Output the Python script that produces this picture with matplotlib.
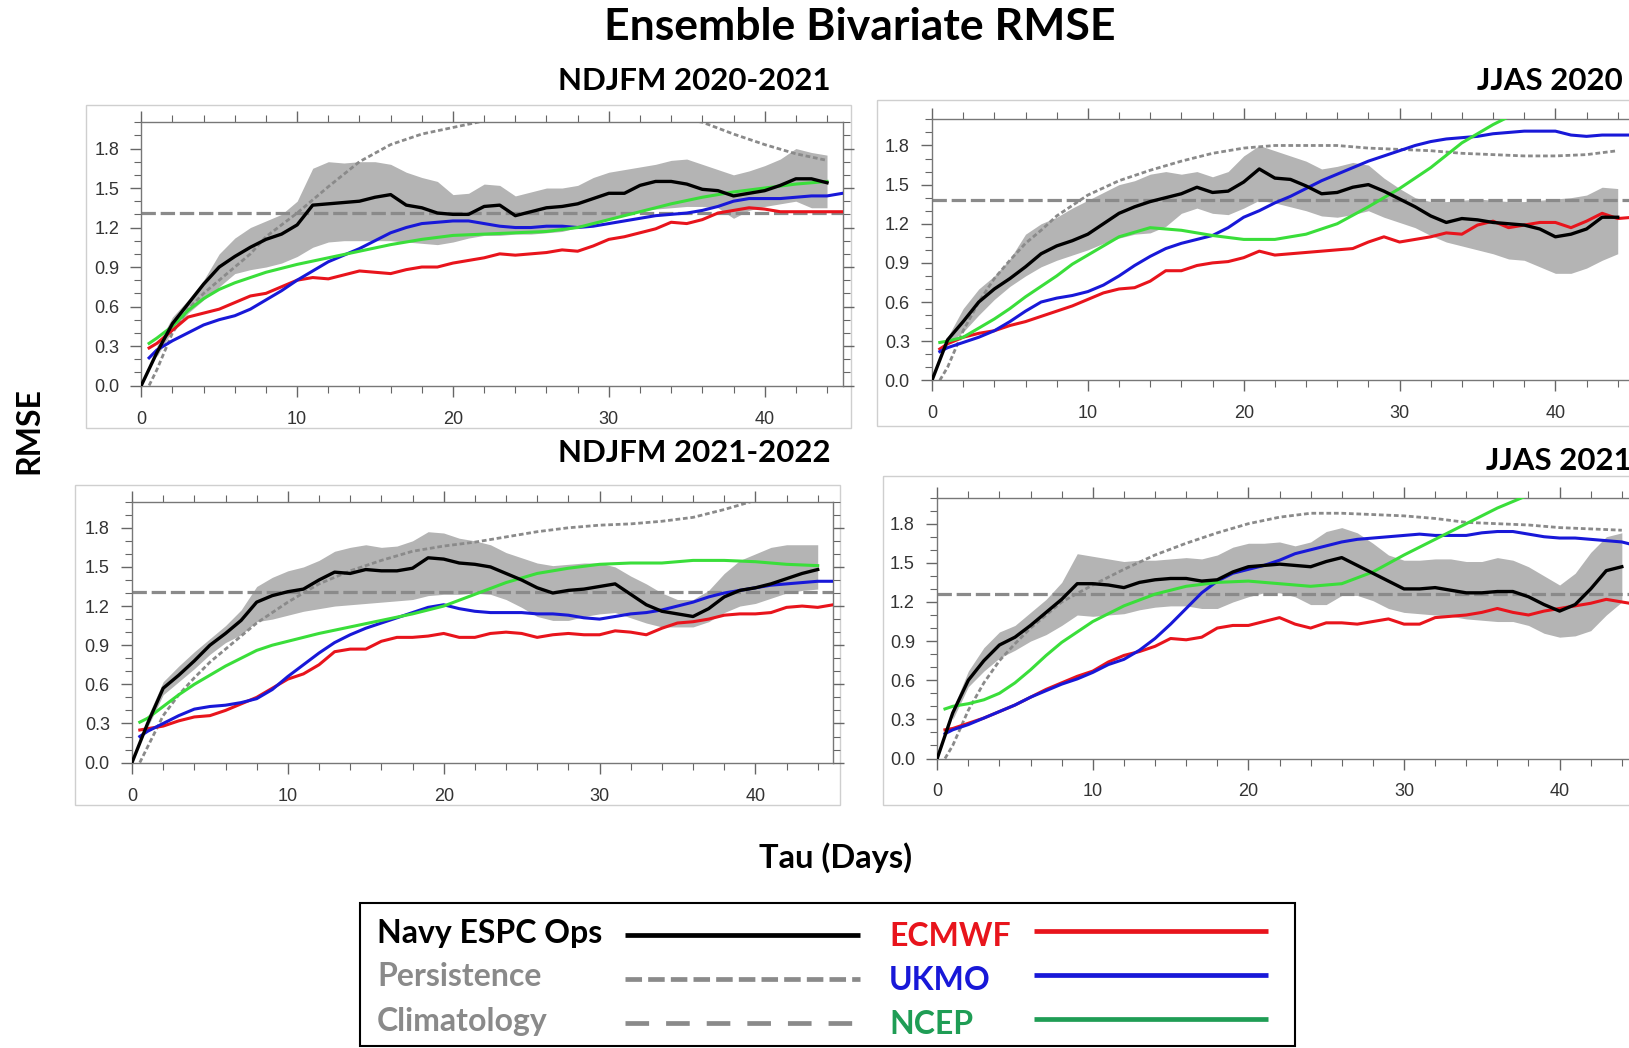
import numpy as np
import matplotlib
matplotlib.use('Agg')
import matplotlib.pyplot as plt
from matplotlib.ticker import MultipleLocator, FormatStrFormatter
from matplotlib.lines import Line2D
from matplotlib.patches import Rectangle

W, H = 1629, 1048

# forecast lead times (days)
tau_navy = np.arange(0, 45)
tau_band = np.arange(1, 45)
tau_model = np.concatenate([[0.5], np.arange(1, 46)])
tau_pers = np.concatenate([[0.5], np.arange(1, 9), np.arange(10, 45, 2)])
tau_ncep = np.concatenate([[0.5], np.arange(1, 11), np.arange(12, 45, 2)])

# ---- NDJFM 2020-2021 ----
w20_navy = [0.00, 0.25, 0.47, 0.62, 0.77, 0.90, 0.98, 1.05, 1.11, 1.15,
            1.22, 1.37, 1.38, 1.39, 1.40, 1.43, 1.45, 1.37, 1.35, 1.31,
            1.30, 1.30, 1.36, 1.37, 1.29, 1.32, 1.35, 1.36, 1.38, 1.42,
            1.46, 1.46, 1.52, 1.55, 1.55, 1.53, 1.49, 1.48, 1.44, 1.46,
            1.48, 1.52, 1.57, 1.57, 1.54]
w20_hi = [0.30, 0.52, 0.65, 0.80, 1.00, 1.12, 1.20, 1.25, 1.30, 1.40,
          1.65, 1.70, 1.69, 1.70, 1.70, 1.68, 1.62, 1.58, 1.55, 1.45,
          1.46, 1.53, 1.52, 1.44, 1.47, 1.50, 1.50, 1.52, 1.58, 1.62,
          1.64, 1.66, 1.68, 1.71, 1.72, 1.68, 1.64, 1.60, 1.63, 1.67,
          1.72, 1.80, 1.77, 1.75]
w20_lo = [0.22, 0.42, 0.55, 0.65, 0.75, 0.85, 0.88, 0.90, 0.93, 0.98,
          1.05, 1.09, 1.10, 1.10, 1.10, 1.10, 1.09, 1.08, 1.07, 1.09,
          1.12, 1.14, 1.14, 1.15, 1.15, 1.16, 1.17, 1.20, 1.22, 1.26,
          1.30, 1.33, 1.34, 1.35, 1.36, 1.36, 1.35, 1.27, 1.33, 1.36,
          1.38, 1.40, 1.35, 1.35]
w20_pers = [0.00, 0.12, 0.40, 0.58, 0.70, 0.80, 0.90, 1.00, 1.13,
            1.31, 1.51, 1.70, 1.83, 1.91, 1.96, 2.01, 2.04, 2.06, 2.07,
            2.07, 2.06, 2.04, 2.00, 1.91, 1.83, 1.76, 1.71]
w20_clim = 1.31
w20_ecmwf = [0.285,
             0.32, 0.42, 0.52, 0.55, 0.58, 0.63, 0.68, 0.70, 0.75, 0.80,
             0.82, 0.81, 0.84, 0.87, 0.86, 0.85, 0.88, 0.90, 0.90, 0.93,
             0.95, 0.97, 1.00, 0.99, 1.00, 1.01, 1.03, 1.02, 1.06, 1.11,
             1.13, 1.16, 1.19, 1.24, 1.23, 1.26, 1.31, 1.33, 1.35, 1.34,
             1.32, 1.32, 1.32, 1.32, 1.32]
w20_ukmo = [0.21,
            0.27, 0.34, 0.40, 0.46, 0.50, 0.53, 0.58, 0.65, 0.72, 0.80,
            0.87, 0.94, 0.99, 1.04, 1.10, 1.16, 1.20, 1.23, 1.24, 1.25,
            1.25, 1.23, 1.21, 1.20, 1.20, 1.21, 1.21, 1.20, 1.21, 1.23,
            1.25, 1.27, 1.29, 1.30, 1.31, 1.33, 1.36, 1.40, 1.42, 1.42,
            1.42, 1.43, 1.44, 1.44, 1.46]
w20_ncep = [0.32, 0.36, 0.45, 0.57, 0.66, 0.73, 0.78, 0.82, 0.86, 0.89, 0.92,
            0.97, 1.02, 1.07, 1.11, 1.14, 1.15, 1.16, 1.17, 1.20, 1.26,
            1.32, 1.38, 1.43, 1.47, 1.50, 1.53, 1.55]

# ---- JJAS 2020 ----
s20_navy = [0.00, 0.31, 0.45, 0.60, 0.70, 0.78, 0.87, 0.97, 1.03, 1.07,
            1.12, 1.20, 1.28, 1.33, 1.37, 1.40, 1.43, 1.48, 1.44, 1.45,
            1.52, 1.62, 1.55, 1.54, 1.49, 1.43, 1.44, 1.48, 1.50, 1.45,
            1.39, 1.33, 1.26, 1.21, 1.24, 1.23, 1.21, 1.20, 1.19, 1.16,
            1.10, 1.12, 1.16, 1.25, 1.25]
s20_hi = [0.33, 0.55, 0.70, 0.80, 0.93, 1.12, 1.20, 1.25, 1.32, 1.38,
          1.44, 1.50, 1.53, 1.58, 1.60, 1.58, 1.60, 1.56, 1.60, 1.72,
          1.80, 1.76, 1.72, 1.68, 1.62, 1.64, 1.67, 1.65, 1.55, 1.47,
          1.40, 1.37, 1.37, 1.38, 1.39, 1.38, 1.37, 1.37, 1.38, 1.39,
          1.40, 1.42, 1.48, 1.47]
s20_lo = [0.28, 0.37, 0.50, 0.62, 0.72, 0.80, 0.87, 0.92, 0.96, 1.00,
          1.05, 1.09, 1.12, 1.13, 1.18, 1.28, 1.32, 1.28, 1.27, 1.32,
          1.38, 1.36, 1.33, 1.30, 1.26, 1.25, 1.27, 1.30, 1.25, 1.21,
          1.17, 1.11, 1.06, 1.03, 1.00, 0.97, 0.93, 0.92, 0.87, 0.82,
          0.82, 0.86, 0.92, 0.97]
s20_pers = [0.00, 0.10, 0.38, 0.60, 0.78, 0.92, 1.05, 1.15, 1.26,
            1.42, 1.53, 1.61, 1.68, 1.74, 1.78, 1.80, 1.80, 1.80, 1.78,
            1.77, 1.76, 1.74, 1.73, 1.72, 1.72, 1.73, 1.76]
s20_clim = 1.38
s20_ecmwf = [0.24,
             0.28, 0.33, 0.36, 0.38, 0.42, 0.45, 0.49, 0.53, 0.57, 0.62,
             0.67, 0.70, 0.71, 0.76, 0.84, 0.84, 0.88, 0.90, 0.91, 0.94,
             0.99, 0.96, 0.97, 0.98, 0.99, 1.00, 1.01, 1.06, 1.10, 1.06,
             1.08, 1.10, 1.13, 1.12, 1.19, 1.22, 1.17, 1.19, 1.21, 1.21,
             1.17, 1.22, 1.28, 1.24, 1.25]
s20_ukmo = [0.22,
            0.25, 0.29, 0.33, 0.38, 0.45, 0.53, 0.60, 0.63, 0.65, 0.68,
            0.73, 0.80, 0.88, 0.95, 1.01, 1.05, 1.08, 1.11, 1.17, 1.25,
            1.30, 1.36, 1.41, 1.47, 1.53, 1.58, 1.63, 1.68, 1.72, 1.76,
            1.80, 1.83, 1.85, 1.86, 1.87, 1.89, 1.90, 1.91, 1.91, 1.91,
            1.88, 1.87, 1.88, 1.88, 1.88]
s20_ncep = [0.29, 0.30, 0.33, 0.40, 0.47, 0.55, 0.64, 0.72, 0.80, 0.89, 0.96,
            1.10, 1.17, 1.15, 1.11, 1.08, 1.08, 1.12, 1.20, 1.33, 1.47,
            1.63, 1.82, 1.96, 2.08]

# ---- NDJFM 2021-2022 ----
w21_navy = [0.00, 0.30, 0.57, 0.67, 0.78, 0.90, 0.99, 1.09, 1.23, 1.28,
            1.31, 1.33, 1.40, 1.46, 1.45, 1.48, 1.47, 1.47, 1.49, 1.57,
            1.56, 1.53, 1.52, 1.50, 1.45, 1.40, 1.34, 1.30, 1.32, 1.33,
            1.35, 1.37, 1.29, 1.21, 1.16, 1.14, 1.12, 1.18, 1.27, 1.32,
            1.34, 1.37, 1.41, 1.45, 1.48]
w21_hi = [0.35, 0.62, 0.74, 0.85, 0.95, 1.05, 1.17, 1.35, 1.42, 1.47,
          1.50, 1.55, 1.62, 1.65, 1.67, 1.65, 1.66, 1.70, 1.77, 1.76,
          1.72, 1.70, 1.67, 1.61, 1.57, 1.53, 1.51, 1.52, 1.53, 1.53,
          1.50, 1.43, 1.37, 1.30, 1.25, 1.25, 1.32, 1.45, 1.55, 1.60,
          1.65, 1.67, 1.67, 1.67]
w21_lo = [0.27, 0.52, 0.62, 0.72, 0.83, 0.92, 0.98, 1.08, 1.10, 1.13,
          1.16, 1.18, 1.20, 1.21, 1.22, 1.23, 1.24, 1.25, 1.28, 1.29,
          1.29, 1.30, 1.29, 1.25, 1.19, 1.12, 1.09, 1.09, 1.12, 1.14,
          1.15, 1.11, 1.07, 1.04, 1.04, 1.04, 1.08, 1.15, 1.20, 1.22,
          1.26, 1.30, 1.32, 1.33]
w21_pers = [0.00, 0.12, 0.36, 0.52, 0.65, 0.77, 0.87, 0.97, 1.07,
            1.23, 1.37, 1.47, 1.55, 1.62, 1.66, 1.69, 1.73, 1.77, 1.80,
            1.82, 1.83, 1.85, 1.88, 1.94, 2.01, 2.05, 2.08]
w21_clim = 1.31
w21_ecmwf = [0.25,
             0.26, 0.28, 0.32, 0.35, 0.36, 0.40, 0.45, 0.50, 0.57, 0.64,
             0.68, 0.75, 0.85, 0.87, 0.87, 0.93, 0.96, 0.96, 0.97, 0.99,
             0.96, 0.96, 0.99, 1.00, 0.99, 0.96, 0.98, 0.99, 0.98, 0.98,
             1.01, 1.00, 0.98, 1.03, 1.07, 1.08, 1.10, 1.13, 1.14, 1.14,
             1.15, 1.19, 1.20, 1.19, 1.21]
w21_ukmo = [0.20,
            0.24, 0.30, 0.36, 0.41, 0.43, 0.44, 0.46, 0.49, 0.56, 0.66,
            0.75, 0.84, 0.92, 0.98, 1.03, 1.07, 1.11, 1.15, 1.19, 1.21,
            1.18, 1.16, 1.15, 1.15, 1.15, 1.14, 1.14, 1.13, 1.11, 1.10,
            1.12, 1.14, 1.15, 1.17, 1.20, 1.23, 1.27, 1.30, 1.32, 1.34,
            1.36, 1.37, 1.38, 1.39, 1.39]
w21_ncep = [0.31, 0.34, 0.43, 0.52, 0.60, 0.67, 0.74, 0.80, 0.86, 0.90, 0.93,
            0.99, 1.04, 1.09, 1.14, 1.20, 1.29, 1.38, 1.45, 1.49, 1.52,
            1.53, 1.53, 1.55, 1.55, 1.54, 1.52, 1.51]

# ---- JJAS 2021 ----
s21_navy = [0.00, 0.35, 0.60, 0.75, 0.87, 0.93, 1.02, 1.12, 1.22, 1.34,
            1.34, 1.33, 1.31, 1.35, 1.37, 1.38, 1.38, 1.36, 1.37, 1.43,
            1.47, 1.48, 1.49, 1.48, 1.47, 1.51, 1.54, 1.48, 1.42, 1.36,
            1.30, 1.30, 1.31, 1.29, 1.27, 1.27, 1.28, 1.28, 1.24, 1.18,
            1.13, 1.18, 1.30, 1.44, 1.47]
s21_hi = [0.38, 0.67, 0.85, 0.97, 1.02, 1.12, 1.22, 1.35, 1.57, 1.55,
          1.53, 1.51, 1.52, 1.52, 1.53, 1.54, 1.53, 1.56, 1.62, 1.65,
          1.65, 1.66, 1.63, 1.66, 1.74, 1.77, 1.73, 1.65, 1.56, 1.52,
          1.52, 1.53, 1.53, 1.51, 1.51, 1.54, 1.52, 1.47, 1.40, 1.33,
          1.42, 1.58, 1.70, 1.73]
s21_lo = [0.30, 0.55, 0.67, 0.77, 0.83, 0.90, 0.95, 1.02, 1.10, 1.09,
          1.10, 1.11, 1.14, 1.16, 1.17, 1.17, 1.15, 1.15, 1.20, 1.24,
          1.27, 1.27, 1.24, 1.18, 1.18, 1.25, 1.25, 1.21, 1.15, 1.12,
          1.11, 1.10, 1.09, 1.07, 1.06, 1.05, 1.05, 1.02, 0.96, 0.93,
          0.94, 0.98, 1.10, 1.20]
s21_pers = [0.00, 0.10, 0.37, 0.58, 0.75, 0.88, 1.00, 1.10, 1.20,
            1.33, 1.45, 1.56, 1.65, 1.73, 1.80, 1.85, 1.88, 1.88, 1.87,
            1.86, 1.84, 1.81, 1.80, 1.79, 1.77, 1.76, 1.75]
s21_clim = 1.26
s21_ecmwf = [0.22,
             0.23, 0.27, 0.31, 0.36, 0.41, 0.47, 0.53, 0.58, 0.63, 0.67,
             0.74, 0.79, 0.82, 0.86, 0.92, 0.91, 0.93, 1.00, 1.02, 1.02,
             1.05, 1.08, 1.03, 1.00, 1.04, 1.04, 1.03, 1.05, 1.07, 1.03,
             1.03, 1.08, 1.09, 1.10, 1.12, 1.15, 1.12, 1.10, 1.13, 1.15,
             1.17, 1.19, 1.22, 1.20, 1.18]
s21_ukmo = [0.19,
            0.22, 0.26, 0.31, 0.36, 0.41, 0.47, 0.52, 0.57, 0.61, 0.66,
            0.72, 0.76, 0.83, 0.92, 1.03, 1.15, 1.27, 1.36, 1.42, 1.45,
            1.48, 1.52, 1.57, 1.60, 1.63, 1.66, 1.68, 1.69, 1.70, 1.71,
            1.72, 1.71, 1.71, 1.71, 1.73, 1.74, 1.74, 1.72, 1.70, 1.69,
            1.69, 1.68, 1.67, 1.66, 1.63]
s21_ncep = [0.38, 0.40, 0.42, 0.45, 0.50, 0.58, 0.68, 0.79, 0.89, 0.97, 1.05,
            1.17, 1.26, 1.32, 1.35, 1.36, 1.34, 1.32, 1.34, 1.43, 1.56,
            1.68, 1.80, 1.92, 2.02]

panel_titles = ['NDJFM 2020-2021', 'JJAS 2020', 'NDJFM 2021-2022', 'JJAS 2021']
legend_left = ['Navy ESPC Ops', 'Persistence', 'Climatology']
legend_right = ['ECMWF', 'UKMO', 'NCEP']

C_ECMWF = '#e8141c'
C_UKMO = '#1818d8'
C_NCEP = '#3ade3a'
C_NCEP_LEG = '#1f9d55'
C_GRAY = '#8a8a8a'
C_BAND = '#b4b4b4'

TITLE_FONT = ['Lato', 'DejaVu Sans']
TICK_FONT = ['Liberation Sans', 'DejaVu Sans']


def px_rect(x0, y0, x1, y1):
    '''axes rect in figure fraction from pixel corners (top-left origin)'''
    return [x0 / W, 1 - y1 / H, (x1 - x0) / W, (y1 - y0) / H]


def draw_panel(ax, navy, hi, lo, pers, clim, ecmwf, ukmo, ncep):
    ax.fill_between(tau_band, lo, hi, color=C_BAND, lw=0, zorder=1)
    ax.plot(tau_pers, pers, color=C_GRAY, lw=2.0, ls=(0, (1.7, 1.0)), zorder=2)
    ax.axhline(clim, color=C_GRAY, lw=2.3, ls=(0, (4.5, 1.5)), zorder=2)
    ax.plot(tau_model, ecmwf, color=C_ECMWF, lw=2.2, zorder=3)
    ax.plot(tau_model, ukmo, color=C_UKMO, lw=2.2, zorder=3)
    ax.plot(tau_ncep[:len(ncep)], ncep, color=C_NCEP, lw=2.2, zorder=3)
    ax.plot(tau_navy, navy, color='black', lw=2.4, zorder=4)

    ax.set_xlim(0, 45)
    ax.set_ylim(0, 2.0)
    ax.xaxis.set_major_locator(MultipleLocator(10))
    ax.xaxis.set_minor_locator(MultipleLocator(2))
    ax.yaxis.set_major_locator(MultipleLocator(0.3))
    ax.yaxis.set_minor_locator(MultipleLocator(0.1))
    ax.yaxis.set_major_formatter(FormatStrFormatter('%.1f'))
    ax.tick_params(which='both', direction='out', top=True, right=True,
                   colors='#666666', labelcolor='#333333', labelsize=13)
    ax.tick_params(which='major', length=8, width=1)
    ax.tick_params(which='minor', length=5, width=0.8)
    ax.tick_params(axis='x', which='major', pad=10)
    ax.tick_params(axis='y', which='major', pad=8)
    for lab in ax.get_xticklabels() + ax.get_yticklabels():
        lab.set_family(TICK_FONT)
    for sp in ax.spines.values():
        sp.set_color('#777777')
        sp.set_linewidth(1)


fig = plt.figure(figsize=(W / 100, H / 100), dpi=100)

# full-figure layer in pixel units for frames, titles and the key
over = fig.add_axes([0, 0, 1, 1], zorder=0)
over.set_xlim(0, W)
over.set_ylim(H, 0)
over.axis('off')

frames = [(86, 105, 851, 428), (877, 100, 1680, 426),
          (75, 485, 840, 805), (883, 476, 1680, 805)]
for x0, y0, x1, y1 in frames:
    over.add_patch(Rectangle((x0, y0), x1 - x0, y1 - y0, fill=False,
                             ec='#cfcfcf', lw=1))

# plot boxes: (left px, x=0) .. (x=45), y from y=0 px to y=2.0 px
boxes = [(141.3, 122.2, 842.6, 385.5), (932, 119.4, 1633.3, 380.3),
         (132, 501.7, 833.3, 762.6), (937.2, 497.6, 1637.4, 758.5)]
panel_data = [
    (w20_navy, w20_hi, w20_lo, w20_pers, w20_clim, w20_ecmwf, w20_ukmo, w20_ncep),
    (s20_navy, s20_hi, s20_lo, s20_pers, s20_clim, s20_ecmwf, s20_ukmo, s20_ncep),
    (w21_navy, w21_hi, w21_lo, w21_pers, w21_clim, w21_ecmwf, w21_ukmo, w21_ncep),
    (s21_navy, s21_hi, s21_lo, s21_pers, s21_clim, s21_ecmwf, s21_ukmo, s21_ncep),
]
for box, data in zip(boxes, panel_data):
    ax = fig.add_axes(px_rect(*box), zorder=2)
    draw_panel(ax, *data)

title_pos = [(831, 81), (1623, 81), (831, 453), (1632, 461)]
for (tx, ty), t in zip(title_pos, panel_titles):
    over.text(tx, ty, t, ha='right', va='center', fontsize=22.5,
              fontweight='bold', family=TITLE_FONT)

over.text(860, 27, 'Ensemble Bivariate RMSE', ha='center', va='center',
          fontsize=32, fontweight='bold', family=TITLE_FONT)
over.text(29, 431, 'RMSE', ha='center', va='center', rotation=90,
          fontsize=23, fontweight='bold', family=TITLE_FONT)
over.text(836, 858, 'Tau (Days)', ha='center', va='center',
          fontsize=23.5, fontweight='bold', family=TITLE_FONT)

# key
over.add_patch(Rectangle((360.5, 903), 935, 143, fill=False, ec='black', lw=1.5))
left_colors = ['black', C_GRAY, C_GRAY]
left_styles = ['-', (0, (3.5, 1.3)), (0, (5.0, 3.6))]
right_colors = [C_ECMWF, C_UKMO, C_NCEP_LEG]
row_y = [933, 977, 1021]
for i in range(3):
    y = row_y[i]
    over.text(377, y, legend_left[i], ha='left', va='center', fontsize=23,
              fontweight='bold', color=left_colors[i], family=TITLE_FONT)
    over.add_line(Line2D([625, 860], [y + 2, y + 2], color=left_colors[i],
                         lw=3.4, ls=left_styles[i], solid_capstyle='butt'))
    over.text(889, y + 3, legend_right[i], ha='left', va='center', fontsize=23,
              fontweight='bold', color=right_colors[i], family=TITLE_FONT)
    over.add_line(Line2D([1034, 1268], [y - 2, y - 2], color=right_colors[i],
                         lw=3.4, solid_capstyle='butt'))

fig.savefig('out.png', dpi=100)
